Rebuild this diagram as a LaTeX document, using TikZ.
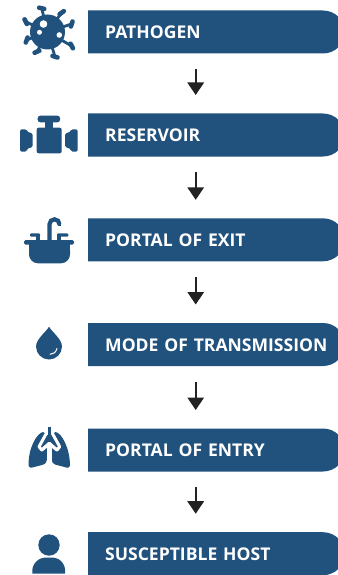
\documentclass[tikz,border=0pt]{standalone}
\usepackage{fontspec}
\setmainfont{Open Sans}
\usetikzlibrary{arrows.meta}
\definecolor{navy}{HTML}{21517D}
\definecolor{ink}{HTML}{222222}
\tikzset{
  x=1pt,y=-1pt,
  barnode/.style={anchor=north west,minimum width=249pt,minimum height=43pt,inner sep=0pt,
    text width=249pt,align=left,text=white,font=\fontsize{17.55}{18}\selectfont\bfseries,text height=13.5pt,text depth=0pt},
  conn/.style={draw=ink,line width=1.6pt,-{Triangle[length=12.5pt,width=16.5pt]}},
  icon/.style={fill=navy,draw=none},
  spike/.style={draw=navy,line width=2.8pt,line cap=round},
  knob/.style={draw=navy,line width=4.6pt,line cap=round}
}
\newcommand{\barshape}[1]{\fill[navy] (88,#1) [rounded corners=22pt] -- (345,#1) -- (345,#1+43) [sharp corners] -- (88,#1+43) -- cycle;}
\begin{document}
\begin{tikzpicture}
\useasboundingbox (0,0) rectangle (337,575);
\fill[white] (0,0) rectangle (337,575);
% bars
\foreach \yy in {10.5,113.5,218.3,323,428.5,532.2}{\barshape{\yy}}
\node[barnode] (b1) at (88,10.5) {\hspace*{17pt}PATHOGEN};
\node[barnode] (b2) at (88,113.5) {\hspace*{17pt}RESERVOIR};
\node[barnode] (b3) at (88,218.3) {\hspace*{17pt}PORTAL OF EXIT};
\node[barnode] (b4) at (88,323) {\hspace*{17pt}MODE OF TRANSMISSION};
\node[barnode] (b5) at (88,428.5) {\hspace*{17pt}PORTAL OF ENTRY};
\node[barnode] (b6) at (88,532.2) {\hspace*{17pt}SUSCEPTIBLE HOST};
% connectors
\foreach \a/\b in {b1/b2,b2/b3,b3/b4,b4/b5,b5/b6}{
  \draw[conn] ([xshift=-17pt,yshift=-15.5pt]\a.south) -- ([xshift=-17pt,yshift=18.5pt]\b.north);
}
% virus
\fill[navy] (47.5,32) circle (17.5);
\foreach \px/\py/\ang in {41.7/8.3/-14,61.7/12.7/36,71.7/24/72,71.7/46/118,55/56.7/163,37/51.7/204,26.7/40/250,25.7/21.7/296}{
  \draw[spike] (47.5,32) -- (\px,\py);
  \draw[knob] ([shift={(\ang:2.6pt)}]\px,\py) -- ([shift={(\ang:-2.6pt)}]\px,\py);
}
\fill[white] (43.5,24) circle (3.8) (39.5,32.3) circle (2.5) (59.3,35) circle (2.8);
% valve
\fill[icon,rounded corners=2pt] (36.7,127.7) rectangle (61.7,153.3);
\fill[icon] (45,120) rectangle (53.3,130);
\fill[icon,rounded corners=2.5pt] (37.7,115.7) rectangle (60,122.3);
\fill[icon,rounded corners=1.5pt] (20,129.3) -- (26.7,129.3) -- (26.7,131.5) -- (32.7,133.5) -- (32.7,147) -- (26.7,149) -- (26.7,151.7) -- (20,151.7) -- cycle;
\fill[icon,rounded corners=1.5pt] (77.7,129.3) -- (71,129.3) -- (71,131.5) -- (65,133.5) -- (65,147) -- (71,149) -- (71,151.7) -- (77.7,151.7) -- cycle;
% sink
\fill[icon,rounded corners=1.5pt] (24,240) rectangle (74,244.5);
\fill[icon,rounded corners=9pt] (29,242) -- (70,242) -- (70,263.3) -- (29,263.3) -- cycle;
\fill[icon] (29,242) rectangle (70,250);
\draw[navy,line width=4.2pt] (49.5,241) -- (49.5,224.3) arc[start angle=180,end angle=360,radius=5];
\draw[navy,line width=3.5pt] (59.5,224) -- (59.5,225.5);
\fill[icon] (36,241) rectangle (40,234);
\fill[icon] (57.3,241) rectangle (61.3,234);
\fill[icon,rounded corners=1pt] (30,233.3) rectangle (40,236.7);
\fill[icon,rounded corners=1pt] (57.3,233.3) rectangle (68.3,236.7);
% drop
\fill[icon] (49,326.7) .. controls (47,331) and (36,339) .. (36,346.5) arc[start angle=180,end angle=0,radius=13] .. controls (62,339) and (51,331) .. cycle;
\draw[white,line width=1pt,line cap=round] (50,354.3) .. controls (53,354.3) and (56,352.5) .. (57,348.5);
% lungs
\fill[icon] (43,432) .. controls (37,433) and (28,448) .. (28.6,466) .. controls (29,468.5) and (31,468) .. (36,466.5) .. controls (41,465) and (46.8,465) .. (46.8,460) -- (46.8,445) -- (49,436) -- cycle;
\fill[icon] (55.6,432) .. controls (61.6,433) and (70,448) .. (70,466) .. controls (69.6,468.5) and (67.6,468) .. (62.6,466.5) .. controls (57.6,465) and (51.8,465) .. (51.8,460) -- (51.8,445) -- (49.6,436) -- cycle;
\draw[white,line width=3pt,line join=round,line cap=round] (46,434) -- (39,446.7) -- (41.7,450) -- (49.3,443.5) -- (57,450) -- (59.7,446.7) -- (52.7,434);
\fill[white] (46.8,445) rectangle (51.8,470);
\fill[navy] (46.8,443) -- (49.3,441) -- (51.8,443) -- (51.8,438) -- (46.8,438) -- cycle;
\draw[white,line width=3pt,line join=round] (41.7,450) -- (49.3,443.5) -- (57,450);
\draw[navy,line width=2.4pt] (49.3,426.7) -- (49.3,442);
% person
\fill[navy] (49,545) circle (10.7);
\fill[icon] (32.3,573.5) .. controls (31,563) and (40,557.7) .. (44,557.7) -- (54,557.7) .. controls (58,557.7) and (66.5,563) .. (65,573.5) -- cycle;
\end{tikzpicture}
\end{document}
